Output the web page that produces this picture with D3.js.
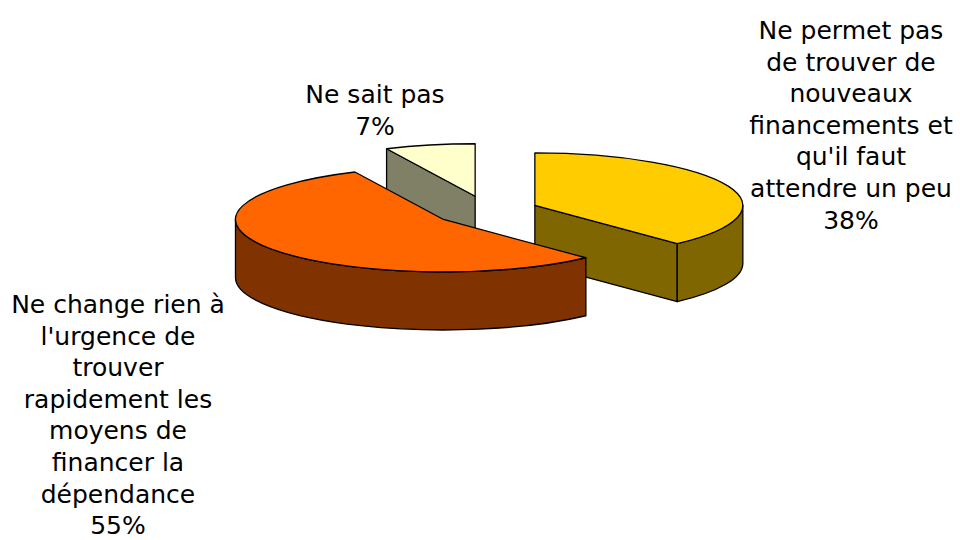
<!DOCTYPE html>
<html>
<head>
<meta charset="utf-8">
<script src="https://cdn.jsdelivr.net/npm/d3@7"></script>
<style>
  body { margin: 0; background: #fff; }
</style>
</head>
<body>
<script>
var width = 960, height = 540;

// data
var categories = ['Ne permet pas de trouver de nouveaux financements et qu\'il faut attendre un peu',
                  'Ne change rien à l\'urgence de trouver rapidement les moyens de financer la dépendance',
                  'Ne sait pas'];
var values = [38, 55, 7];
var labelLines = [
  ['Ne permet pas', 'de trouver de', 'nouveaux', 'financements et', 'qu\'il faut', 'attendre un peu', '38%'],
  ['Ne change rien à', 'l\'urgence de', 'trouver', 'rapidement les', 'moyens de', 'financer la', 'dépendance', '55%'],
  ['Ne sait pas', '7%']
];

// layout / style
var topColors = ['#ffcc00', '#ff6600', '#ffffcc'];
var sideColors = ['#806600', '#803300', '#808066'];
var labelPos = [{ x: 851, y: 39 }, { x: 118, y: 313 }, { x: 375, y: 103 }];
var lineHeight = 31.6;
var cx = 486.5, cy = 211, rx = 208, ry = 52.5, depth = 58, explode = 0.25;

var svg = d3.select('body')
            .append('svg')
            .attr('width', width)
            .attr('height', height)
            .style('font', '25px "DejaVu Sans", Verdana, sans-serif');

var arcs = d3.pie().sort(null).value(function (d) { return d; })(values);

// point on the ellipse, angle measured clockwise from 12 o'clock
function pt(c, a, dy) {
  return [c[0] + rx * Math.sin(a), c[1] - ry * Math.cos(a) + (dy || 0)];
}
function P(p) { return p[0].toFixed(2) + ',' + p[1].toFixed(2); }

arcs.forEach(function (d, i) {
  var mid = (d.startAngle + d.endAngle) / 2;
  d.center = [cx + explode * rx * Math.sin(mid), cy - explode * 1.15 * ry * Math.cos(mid)];
  d.index = i;
});

// paint back to front
var order = arcs.slice().sort(function (a, b) { return a.center[1] - b.center[1]; });

var g = svg.append('g')
           .attr('stroke', '#000')
           .attr('stroke-width', 1.3)
           .attr('stroke-linejoin', 'round');

order.forEach(function (d) {
  var c = d.center, a0 = d.startAngle, a1 = d.endAngle;
  var slice = g.append('g');
  var side = sideColors[d.index];

  // radial walls facing the viewer
  [[a0, a0 - Math.PI / 2], [a1, a1 + Math.PI / 2]].forEach(function (w) {
    if (Math.cos(w[1]) < -1e-6) {
      slice.append('path')
           .attr('fill', side)
           .attr('d', 'M' + P(c) + 'L' + P(pt(c, w[0])) + 'L' + P(pt(c, w[0], depth)) +
                      'L' + P([c[0], c[1] + depth]) + 'Z');
    }
  });

  // outer wall, front half only
  var b0 = Math.max(a0, Math.PI / 2), b1 = Math.min(a1, 3 * Math.PI / 2);
  if (b1 > b0) {
    slice.append('path')
         .attr('fill', side)
         .attr('d', 'M' + P(pt(c, b0)) + 'A' + rx + ',' + ry + ' 0 0 1 ' + P(pt(c, b1)) +
                    'L' + P(pt(c, b1, depth)) + 'A' + rx + ',' + ry + ' 0 0 0 ' + P(pt(c, b0, depth)) + 'Z');
  }

  // top face
  var large = (a1 - a0) > Math.PI ? 1 : 0;
  slice.append('path')
       .attr('fill', topColors[d.index])
       .attr('d', 'M' + P(c) + 'L' + P(pt(c, a0)) + 'A' + rx + ',' + ry + ' 0 ' + large + ' 1 ' +
                  P(pt(c, a1)) + 'Z');
});

// labels
var labels = svg.append('g').attr('fill', '#000').attr('text-anchor', 'middle');
labelLines.forEach(function (lines, i) {
  var t = labels.append('text')
                .attr('x', labelPos[i].x)
                .attr('y', labelPos[i].y);
  lines.forEach(function (s, k) {
    t.append('tspan')
     .attr('x', labelPos[i].x)
     .attr('y', labelPos[i].y + k * lineHeight)
     .text(s);
  });
});
</script>
</body>
</html>
